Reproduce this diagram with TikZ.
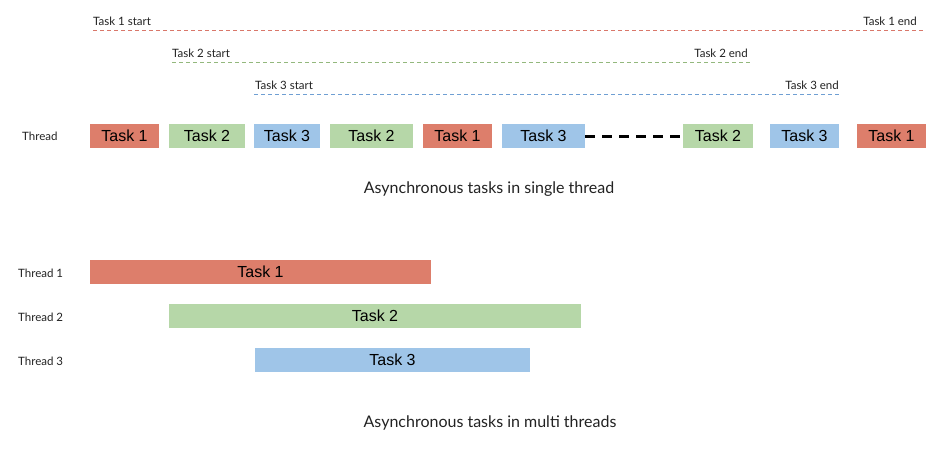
\documentclass[tikz,border=0pt]{standalone}
\usepackage{fontspec}
\setmainfont{Lato}
\newfontfamily\arialf{Liberation Sans}
\definecolor{tred}{HTML}{DD7E6B}
\definecolor{tgreen}{HTML}{B6D7A8}
\definecolor{tblue}{HTML}{9FC5E8}
\definecolor{lred}{HTML}{D9776A}
\definecolor{lgreen}{HTML}{93B87D}
\definecolor{lblue}{HTML}{6F9FD3}
\definecolor{txt}{HTML}{222222}
\tikzset{
  box/.style={inner sep=0pt, minimum height=24pt, font=\arialf\fontsize{16}{16}\selectfont, text=black},
  small/.style={inner sep=0pt, font=\fontsize{11.5}{11.5}\selectfont, text=txt},
  caption/.style={inner sep=0pt, font=\fontsize{16}{16}\selectfont, text=txt},
  tline/.style={line width=0.8pt, dash pattern=on 4pt off 3pt},
  gap/.style={line width=3pt, dash pattern=on 10pt off 7pt, black}
}
\begin{document}
\begin{tikzpicture}[x=1pt, y=-1pt]
\useasboundingbox (0,0) rectangle (942,459);
% dashed timing lines
\coordinate (s1) at (93,30); \coordinate (e1) at (924,30);
\coordinate (s2) at (172,62); \coordinate (e2) at (752,62);
\coordinate (s3) at (254,94); \coordinate (e3) at (839,94);
\draw[tline, lred] (s1) -- (e1);
\draw[tline, lgreen] (s2) -- (e2);
\draw[tline, lblue] (s3) -- (e3);
\node[small, anchor=base west] (l1s) at (93,25) {Task 1 start};
\node[small, anchor=base east] (l1e) at (917,25) {Task 1 end};
\node[small, anchor=base west] (l2s) at (172,57) {Task 2 start};
\node[small, anchor=base east] (l2e) at (748,57) {Task 2 end};
\node[small, anchor=base west] (l3s) at (255,89) {Task 3 start};
\node[small, anchor=base east] (l3e) at (839,89) {Task 3 end};
% single thread row
\node[small, anchor=base west] (thr) at (22,140) {Thread};
\node[box, fill=tred,   minimum width=69pt] (b1) at (124.5,136) {Task 1};
\node[box, fill=tgreen, minimum width=76pt] (b2) at (207,136) {Task 2};
\node[box, fill=tblue,  minimum width=66pt] (b3) at (287,136) {Task 3};
\node[box, fill=tgreen, minimum width=83pt] (b4) at (371.5,136) {Task 2};
\node[box, fill=tred,   minimum width=69pt] (b5) at (457.5,136) {Task 1};
\node[box, fill=tblue,  minimum width=83pt] (b6) at (543.5,136) {Task 3};
\node[box, fill=tgreen, minimum width=70pt] (b7) at (718,136) {Task 2};
\node[box, fill=tblue,  minimum width=69pt] (b8) at (804.5,136) {Task 3};
\node[box, fill=tred,   minimum width=69pt] (b9) at (891.5,136) {Task 1};
\draw[gap] (b6.east) -- (b7.west);
\node[caption, anchor=base] (c1) at (489,193) {Asynchronous tasks in single thread};
% multi threads
\node[small, anchor=base west] (t1) at (18,277) {Thread 1};
\node[small, anchor=base west] (t2) at (18,321) {Thread 2};
\node[small, anchor=base west] (t3) at (18,365) {Thread 3};
\node[box, fill=tred,   minimum width=341pt] (m1) at (260.5,272) {Task 1};
\node[box, fill=tgreen, minimum width=412pt] (m2) at (375,316) {Task 2};
\node[box, fill=tblue,  minimum width=275pt] (m3) at (392.5,360) {Task 3};
\node[caption, anchor=base] (c2) at (490,427) {Asynchronous tasks in multi threads};
\end{tikzpicture}
\end{document}
